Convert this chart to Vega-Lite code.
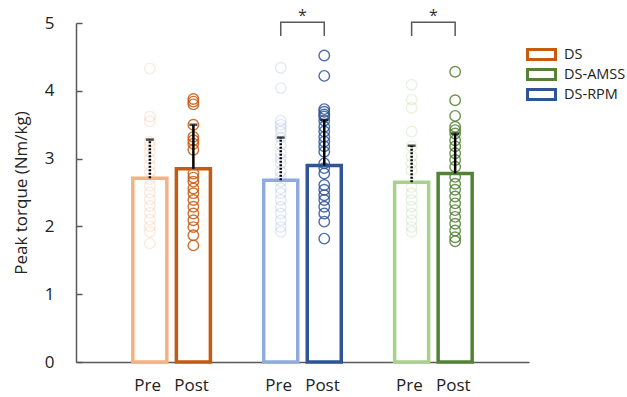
{
  "$schema": "https://vega.github.io/schema/vega-lite/v6.json",
  "width": 453,
  "height": 339,
  "autosize": "none",
  "padding": {"left": 76, "top": 23, "right": 98, "bottom": 35},
  "config": {
    "view": {"stroke": null},
    "font": "Open Sans",
    "axis": {"labelFont": "Open Sans", "titleFont": "Open Sans", "labelColor": "#222222", "titleColor": "#222222"},
    "legend": {"labelFont": "Open Sans"},
    "text": {"font": "Open Sans"}
  },
  "datasets": {
    "bars": [
      {"g": "DS", "p": "Pre", "k": "DS Pre", "m": 2.71, "u": 3.28},
      {"g": "DS", "p": "Post", "k": "DS Post", "m": 2.85, "u": 3.5},
      {"g": "DS-RPM", "p": "Pre", "k": "DS-RPM Pre", "m": 2.68, "u": 3.31},
      {"g": "DS-RPM", "p": "Post", "k": "DS-RPM Post", "m": 2.9, "u": 3.57},
      {"g": "DS-AMSS", "p": "Pre", "k": "DS-AMSS Pre", "m": 2.65, "u": 3.19},
      {"g": "DS-AMSS", "p": "Post", "k": "DS-AMSS Post", "m": 2.78, "u": 3.37}
    ],
    "pts": [
      {"g": "DS", "p": "Pre", "k": "DS Pre", "v": 4.33},
      {"g": "DS", "p": "Pre", "k": "DS Pre", "v": 3.62},
      {"g": "DS", "p": "Pre", "k": "DS Pre", "v": 3.55},
      {"g": "DS", "p": "Pre", "k": "DS Pre", "v": 3.25},
      {"g": "DS", "p": "Pre", "k": "DS Pre", "v": 3.18},
      {"g": "DS", "p": "Pre", "k": "DS Pre", "v": 3.1},
      {"g": "DS", "p": "Pre", "k": "DS Pre", "v": 3.0},
      {"g": "DS", "p": "Pre", "k": "DS Pre", "v": 2.9},
      {"g": "DS", "p": "Pre", "k": "DS Pre", "v": 2.8},
      {"g": "DS", "p": "Pre", "k": "DS Pre", "v": 2.7},
      {"g": "DS", "p": "Pre", "k": "DS Pre", "v": 2.6},
      {"g": "DS", "p": "Pre", "k": "DS Pre", "v": 2.5},
      {"g": "DS", "p": "Pre", "k": "DS Pre", "v": 2.4},
      {"g": "DS", "p": "Pre", "k": "DS Pre", "v": 2.3},
      {"g": "DS", "p": "Pre", "k": "DS Pre", "v": 2.2},
      {"g": "DS", "p": "Pre", "k": "DS Pre", "v": 2.1},
      {"g": "DS", "p": "Pre", "k": "DS Pre", "v": 2.0},
      {"g": "DS", "p": "Pre", "k": "DS Pre", "v": 1.92},
      {"g": "DS", "p": "Pre", "k": "DS Pre", "v": 1.75},
      {"g": "DS", "p": "Post", "k": "DS Post", "v": 3.88},
      {"g": "DS", "p": "Post", "k": "DS Post", "v": 3.84},
      {"g": "DS", "p": "Post", "k": "DS Post", "v": 3.8},
      {"g": "DS", "p": "Post", "k": "DS Post", "v": 3.5},
      {"g": "DS", "p": "Post", "k": "DS Post", "v": 3.32},
      {"g": "DS", "p": "Post", "k": "DS Post", "v": 3.27},
      {"g": "DS", "p": "Post", "k": "DS Post", "v": 3.22},
      {"g": "DS", "p": "Post", "k": "DS Post", "v": 3.13},
      {"g": "DS", "p": "Post", "k": "DS Post", "v": 2.78},
      {"g": "DS", "p": "Post", "k": "DS Post", "v": 2.72},
      {"g": "DS", "p": "Post", "k": "DS Post", "v": 2.66},
      {"g": "DS", "p": "Post", "k": "DS Post", "v": 2.56},
      {"g": "DS", "p": "Post", "k": "DS Post", "v": 2.49},
      {"g": "DS", "p": "Post", "k": "DS Post", "v": 2.39},
      {"g": "DS", "p": "Post", "k": "DS Post", "v": 2.29},
      {"g": "DS", "p": "Post", "k": "DS Post", "v": 2.19},
      {"g": "DS", "p": "Post", "k": "DS Post", "v": 2.09},
      {"g": "DS", "p": "Post", "k": "DS Post", "v": 1.99},
      {"g": "DS", "p": "Post", "k": "DS Post", "v": 1.87},
      {"g": "DS", "p": "Post", "k": "DS Post", "v": 1.72},
      {"g": "DS-RPM", "p": "Pre", "k": "DS-RPM Pre", "v": 4.34},
      {"g": "DS-RPM", "p": "Pre", "k": "DS-RPM Pre", "v": 4.04},
      {"g": "DS-RPM", "p": "Pre", "k": "DS-RPM Pre", "v": 3.56},
      {"g": "DS-RPM", "p": "Pre", "k": "DS-RPM Pre", "v": 3.5},
      {"g": "DS-RPM", "p": "Pre", "k": "DS-RPM Pre", "v": 3.45},
      {"g": "DS-RPM", "p": "Pre", "k": "DS-RPM Pre", "v": 3.4},
      {"g": "DS-RPM", "p": "Pre", "k": "DS-RPM Pre", "v": 3.31},
      {"g": "DS-RPM", "p": "Pre", "k": "DS-RPM Pre", "v": 3.2},
      {"g": "DS-RPM", "p": "Pre", "k": "DS-RPM Pre", "v": 3.08},
      {"g": "DS-RPM", "p": "Pre", "k": "DS-RPM Pre", "v": 3.0},
      {"g": "DS-RPM", "p": "Pre", "k": "DS-RPM Pre", "v": 2.93},
      {"g": "DS-RPM", "p": "Pre", "k": "DS-RPM Pre", "v": 2.81},
      {"g": "DS-RPM", "p": "Pre", "k": "DS-RPM Pre", "v": 2.73},
      {"g": "DS-RPM", "p": "Pre", "k": "DS-RPM Pre", "v": 2.66},
      {"g": "DS-RPM", "p": "Pre", "k": "DS-RPM Pre", "v": 2.56},
      {"g": "DS-RPM", "p": "Pre", "k": "DS-RPM Pre", "v": 2.49},
      {"g": "DS-RPM", "p": "Pre", "k": "DS-RPM Pre", "v": 2.39},
      {"g": "DS-RPM", "p": "Pre", "k": "DS-RPM Pre", "v": 2.29},
      {"g": "DS-RPM", "p": "Pre", "k": "DS-RPM Pre", "v": 2.19},
      {"g": "DS-RPM", "p": "Pre", "k": "DS-RPM Pre", "v": 2.09},
      {"g": "DS-RPM", "p": "Pre", "k": "DS-RPM Pre", "v": 1.99},
      {"g": "DS-RPM", "p": "Pre", "k": "DS-RPM Pre", "v": 1.92},
      {"g": "DS-RPM", "p": "Post", "k": "DS-RPM Post", "v": 4.52},
      {"g": "DS-RPM", "p": "Post", "k": "DS-RPM Post", "v": 4.22},
      {"g": "DS-RPM", "p": "Post", "k": "DS-RPM Post", "v": 3.73},
      {"g": "DS-RPM", "p": "Post", "k": "DS-RPM Post", "v": 3.69},
      {"g": "DS-RPM", "p": "Post", "k": "DS-RPM Post", "v": 3.65},
      {"g": "DS-RPM", "p": "Post", "k": "DS-RPM Post", "v": 3.62},
      {"g": "DS-RPM", "p": "Post", "k": "DS-RPM Post", "v": 3.56},
      {"g": "DS-RPM", "p": "Post", "k": "DS-RPM Post", "v": 3.47},
      {"g": "DS-RPM", "p": "Post", "k": "DS-RPM Post", "v": 3.4},
      {"g": "DS-RPM", "p": "Post", "k": "DS-RPM Post", "v": 3.32},
      {"g": "DS-RPM", "p": "Post", "k": "DS-RPM Post", "v": 3.25},
      {"g": "DS-RPM", "p": "Post", "k": "DS-RPM Post", "v": 3.18},
      {"g": "DS-RPM", "p": "Post", "k": "DS-RPM Post", "v": 3.1},
      {"g": "DS-RPM", "p": "Post", "k": "DS-RPM Post", "v": 2.93},
      {"g": "DS-RPM", "p": "Post", "k": "DS-RPM Post", "v": 2.86},
      {"g": "DS-RPM", "p": "Post", "k": "DS-RPM Post", "v": 2.78},
      {"g": "DS-RPM", "p": "Post", "k": "DS-RPM Post", "v": 2.61},
      {"g": "DS-RPM", "p": "Post", "k": "DS-RPM Post", "v": 2.54},
      {"g": "DS-RPM", "p": "Post", "k": "DS-RPM Post", "v": 2.46},
      {"g": "DS-RPM", "p": "Post", "k": "DS-RPM Post", "v": 2.39},
      {"g": "DS-RPM", "p": "Post", "k": "DS-RPM Post", "v": 2.29},
      {"g": "DS-RPM", "p": "Post", "k": "DS-RPM Post", "v": 2.19},
      {"g": "DS-RPM", "p": "Post", "k": "DS-RPM Post", "v": 2.07},
      {"g": "DS-RPM", "p": "Post", "k": "DS-RPM Post", "v": 1.82},
      {"g": "DS-AMSS", "p": "Pre", "k": "DS-AMSS Pre", "v": 4.09},
      {"g": "DS-AMSS", "p": "Pre", "k": "DS-AMSS Pre", "v": 3.87},
      {"g": "DS-AMSS", "p": "Pre", "k": "DS-AMSS Pre", "v": 3.75},
      {"g": "DS-AMSS", "p": "Pre", "k": "DS-AMSS Pre", "v": 3.4},
      {"g": "DS-AMSS", "p": "Pre", "k": "DS-AMSS Pre", "v": 3.18},
      {"g": "DS-AMSS", "p": "Pre", "k": "DS-AMSS Pre", "v": 3.03},
      {"g": "DS-AMSS", "p": "Pre", "k": "DS-AMSS Pre", "v": 2.93},
      {"g": "DS-AMSS", "p": "Pre", "k": "DS-AMSS Pre", "v": 2.83},
      {"g": "DS-AMSS", "p": "Pre", "k": "DS-AMSS Pre", "v": 2.58},
      {"g": "DS-AMSS", "p": "Pre", "k": "DS-AMSS Pre", "v": 2.49},
      {"g": "DS-AMSS", "p": "Pre", "k": "DS-AMSS Pre", "v": 2.39},
      {"g": "DS-AMSS", "p": "Pre", "k": "DS-AMSS Pre", "v": 2.29},
      {"g": "DS-AMSS", "p": "Pre", "k": "DS-AMSS Pre", "v": 2.19},
      {"g": "DS-AMSS", "p": "Pre", "k": "DS-AMSS Pre", "v": 2.09},
      {"g": "DS-AMSS", "p": "Pre", "k": "DS-AMSS Pre", "v": 1.99},
      {"g": "DS-AMSS", "p": "Pre", "k": "DS-AMSS Pre", "v": 1.92},
      {"g": "DS-AMSS", "p": "Post", "k": "DS-AMSS Post", "v": 4.28},
      {"g": "DS-AMSS", "p": "Post", "k": "DS-AMSS Post", "v": 3.86},
      {"g": "DS-AMSS", "p": "Post", "k": "DS-AMSS Post", "v": 3.63},
      {"g": "DS-AMSS", "p": "Post", "k": "DS-AMSS Post", "v": 3.47},
      {"g": "DS-AMSS", "p": "Post", "k": "DS-AMSS Post", "v": 3.42},
      {"g": "DS-AMSS", "p": "Post", "k": "DS-AMSS Post", "v": 3.37},
      {"g": "DS-AMSS", "p": "Post", "k": "DS-AMSS Post", "v": 3.27},
      {"g": "DS-AMSS", "p": "Post", "k": "DS-AMSS Post", "v": 3.18},
      {"g": "DS-AMSS", "p": "Post", "k": "DS-AMSS Post", "v": 3.08},
      {"g": "DS-AMSS", "p": "Post", "k": "DS-AMSS Post", "v": 2.98},
      {"g": "DS-AMSS", "p": "Post", "k": "DS-AMSS Post", "v": 2.88},
      {"g": "DS-AMSS", "p": "Post", "k": "DS-AMSS Post", "v": 2.73},
      {"g": "DS-AMSS", "p": "Post", "k": "DS-AMSS Post", "v": 2.63},
      {"g": "DS-AMSS", "p": "Post", "k": "DS-AMSS Post", "v": 2.54},
      {"g": "DS-AMSS", "p": "Post", "k": "DS-AMSS Post", "v": 2.44},
      {"g": "DS-AMSS", "p": "Post", "k": "DS-AMSS Post", "v": 2.34},
      {"g": "DS-AMSS", "p": "Post", "k": "DS-AMSS Post", "v": 2.24},
      {"g": "DS-AMSS", "p": "Post", "k": "DS-AMSS Post", "v": 2.14},
      {"g": "DS-AMSS", "p": "Post", "k": "DS-AMSS Post", "v": 2.04},
      {"g": "DS-AMSS", "p": "Post", "k": "DS-AMSS Post", "v": 1.94},
      {"g": "DS-AMSS", "p": "Post", "k": "DS-AMSS Post", "v": 1.84},
      {"g": "DS-AMSS", "p": "Post", "k": "DS-AMSS Post", "v": 1.78}
    ],
    "brk": [
      {"g": "DS-RPM", "p": "Pre", "y": 4.81, "i": 0},
      {"g": "DS-RPM", "p": "Pre", "y": 5.01, "i": 1},
      {"g": "DS-RPM", "p": "Post", "y": 5.01, "i": 2},
      {"g": "DS-RPM", "p": "Post", "y": 4.81, "i": 3},
      {"g": "DS-AMSS", "p": "Pre", "y": 4.81, "i": 0},
      {"g": "DS-AMSS", "p": "Pre", "y": 5.01, "i": 1},
      {"g": "DS-AMSS", "p": "Post", "y": 5.01, "i": 2},
      {"g": "DS-AMSS", "p": "Post", "y": 4.81, "i": 3}
    ],
    "star": [
      {"g": "DS-RPM", "y": 5.1, "t": "*"},
      {"g": "DS-AMSS", "y": 5.1, "t": "*"}
    ]
  },
  "layer": [
    {
      "data": {"name": "bars"},
      "mark": {"type": "bar", "fill": "white", "strokeWidth": 3.5},
      "encoding": {
        "x": {"field": "g", "type": "nominal", "sort": ["DS", "DS-RPM", "DS-AMSS"],
              "scale": {"paddingInner": 0.335, "paddingOuter": 0.398},
              "axis": {"title": null, "ticks": false, "domainColor": "#595959", "domainWidth": 1.5,
                       "labelExpr": "'Pre\u00a0\u00a0\u00a0Post'", "labelFontSize": 17, "labelPadding": 15, "labelAngle": 0}},
        "xOffset": {"field": "p", "type": "nominal", "sort": ["Pre", "Post"], "scale": {"paddingInner": 0.218, "paddingOuter": 0.109}},
        "y": {"field": "m", "type": "quantitative", "scale": {"domain": [0, 5], "nice": false},
              "axis": {"title": "Peak torque (Nm/kg)", "values": [0, 1, 2, 3, 4, 5], "format": "d", "grid": false,
                       "domainColor": "#595959", "domainWidth": 1.5, "tickColor": "#595959", "tickWidth": 1.5,
                       "tickSize": -6, "labelPadding": 28, "labelFontSize": 17, "titleFontSize": 17,
                       "titleFontWeight": "normal", "titlePadding": 14}},
        "stroke": {"field": "k", "type": "nominal",
                   "scale": {"domain": ["DS Pre", "DS Post", "DS-RPM Pre", "DS-RPM Post", "DS-AMSS Pre", "DS-AMSS Post"],
                             "range": ["#f4b183", "#c55a11", "#8faadc", "#2f5597", "#a9d18e", "#548235"]},
                   "legend": {"title": null, "orient": "none", "legendX": 457, "legendY": 23,
                              "values": ["DS Post", "DS-AMSS Post", "DS-RPM Post"],
                              "labelExpr": "replace(datum.label, ' Post', '')",
                              "symbolType": "M-2,-0.72H2V0.72H-2Z", "symbolSize": 196, "symbolStrokeWidth": 3,
                              "symbolFillColor": "white", "labelFontSize": 14.5, "labelOffset": 14, "rowPadding": -3,
                              "labelColor": "#222222"}}
      }
    },
    {
      "data": {"name": "pts"},
      "mark": {"type": "point", "shape": "circle", "filled": false, "size": 110, "strokeWidth": 1.4},
      "encoding": {
        "x": {"field": "g", "type": "nominal", "sort": ["DS", "DS-RPM", "DS-AMSS"]},
        "xOffset": {"field": "p", "type": "nominal", "sort": ["Pre", "Post"]},
        "y": {"field": "v", "type": "quantitative"},
        "stroke": {"field": "k", "type": "nominal"},
        "opacity": {"field": "p", "type": "nominal", "scale": {"domain": ["Pre", "Post"], "range": [0.25, 0.85]}, "legend": null}
      }
    },
    {
      "data": {"name": "bars"},
      "mark": {"type": "rule", "color": "black", "strokeWidth": 2.5},
      "encoding": {
        "x": {"field": "g", "type": "nominal", "sort": ["DS", "DS-RPM", "DS-AMSS"]},
        "xOffset": {"field": "p", "type": "nominal", "sort": ["Pre", "Post"]},
        "y": {"field": "m", "type": "quantitative"},
        "y2": {"field": "u"},
        "strokeDash": {"field": "p", "type": "nominal", "scale": {"domain": ["Pre", "Post"], "range": [[2, 1.5], [1, 0]]}, "legend": null}
      }
    },
    {
      "data": {"name": "bars"},
      "mark": {"type": "tick", "color": "black", "size": 8, "thickness": 2.5},
      "encoding": {
        "x": {"field": "g", "type": "nominal", "sort": ["DS", "DS-RPM", "DS-AMSS"]},
        "xOffset": {"field": "p", "type": "nominal", "sort": ["Pre", "Post"]},
        "y": {"field": "u", "type": "quantitative"}
      }
    },
    {
      "data": {"name": "brk"},
      "mark": {"type": "line", "color": "#595959", "strokeWidth": 1.5},
      "encoding": {
        "x": {"field": "g", "type": "nominal", "sort": ["DS", "DS-RPM", "DS-AMSS"]},
        "xOffset": {"field": "p", "type": "nominal", "sort": ["Pre", "Post"]},
        "y": {"field": "y", "type": "quantitative"},
        "order": {"field": "i", "type": "quantitative"},
        "detail": {"field": "g", "type": "nominal"}
      }
    },
    {
      "data": {"name": "star"},
      "mark": {"type": "text", "fontSize": 16, "baseline": "middle", "color": "#333333"},
      "encoding": {
        "x": {"field": "g", "type": "nominal", "sort": ["DS", "DS-RPM", "DS-AMSS"]},
        "y": {"field": "y", "type": "quantitative"},
        "text": {"field": "t"}
      }
    }
  ]
}
